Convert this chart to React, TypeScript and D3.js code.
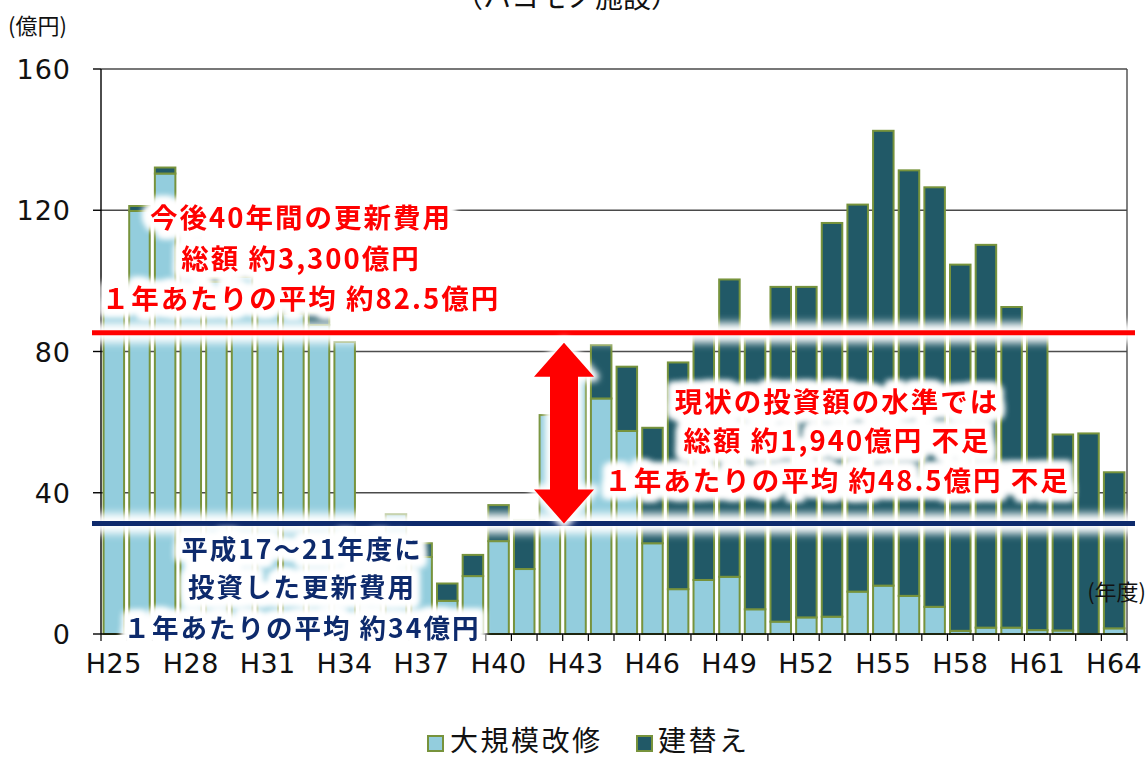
import React from "react";
import * as d3 from "d3";

const categories = [
  "H25","H26","H27","H28","H29","H30","H31","H32","H33","H34",
  "H35","H36","H37","H38","H39","H40","H41","H42","H43","H44",
  "H45","H46","H47","H48","H49","H50","H51","H52","H53","H54",
  "H55","H56","H57","H58","H59","H60","H61","H62","H63","H64",
];
// 大規模改修 (bottom, light)
const renovation = [
  92.2, 119.8, 130.4, 113.6, 99.8, 101.2, 93, 90.8, 87.5, 82.7,
  27, 33.9, 21.8, 9.4, 16.4, 26.3, 18.4, 62, 74, 66.7,
  57.5, 25.7, 12.7, 15.3, 16.2, 7, 3.5, 4.7, 4.9, 12,
  13.7, 10.8, 7.7, 0.9, 1.8, 1.8, 1.1, 1, 0, 1.6,
];
// 建替え (top, dark)
const rebuild = [
  0, 1.4, 1.7, 0, 1.1, 1.1, 2, 2.8, 3.6, 0,
  0.7, 0, 3.9, 4.9, 6, 10.2, 13.9, 0, 0, 15.1,
  18.2, 32.7, 64.2, 69.3, 84.2, 76.7, 94.8, 93.6, 111.5, 109.6,
  128.8, 120.5, 118.8, 103.7, 108.4, 90.8, 83.5, 55.5, 56.8, 44.2,
];
const yTicks = [0, 40, 80, 120, 160];
const xLabelEvery = ["H25","H28","H31","H34","H37","H40","H43","H46","H49","H52","H55","H58","H61","H64"];
const seriesNames = ["大規模改修", "建替え"];
const requiredLevel = 85.3;
const currentLevel = 31.3;
const arrowTopValue = 82.5;

const redBlock1 = ["今後40年間の更新費用", "総額 約3,300億円", "１年あたりの平均 約82.5億円"];
const blueBlock = ["平成17～21年度に", "投資した更新費用", "１年あたりの平均 約34億円"];
const redBlock2 = ["現状の投資額の水準では", "総額 約1,940億円 不足", "１年あたりの平均 約48.5億円 不足"];

const LIGHT = "#93CDDD";
const DARK = "#215967";
const EDGE = "#77933C";
const RED = "#FF0000";
const NAVY = "#0E2A6C";
const JP = "'Noto Sans CJK JP', 'Noto Sans', sans-serif";
const NUM = "'DejaVu Sans', sans-serif";

function GlowText({ lines, cx, ys, color, size = 27.5 }: { lines: string[]; cx: number; ys: number[]; color: string; size?: number }) {
  return (
    <g fontFamily={JP} fontWeight={700} fontSize={size} textAnchor="middle" letterSpacing={2} filter="url(#textglow)">
      {lines.map((t, i) => (
        <text key={i} x={cx} y={ys[i]} fill={color} stroke="#fff" strokeWidth={4} strokeLinejoin="round" style={{ paintOrder: "stroke" }}>{t}</text>
      ))}
    </g>
  );
}

export default function App() {
  const W = 1146, H = 758;
  const x = d3.scaleBand<string>().domain(categories).range([101, 1127]).paddingInner(0.2).paddingOuter(0.1);
  const y = d3.scaleLinear().domain([0, 160]).range([634, 69]);
  const step = x.step();
  const x0 = 101;
  const boundaries = d3.range(categories.length + 1).map((i) => x0 + i * step);

  const arrowX = 564;
  const aTop = y(arrowTopValue);
  const aBot = y(currentLevel);
  const headH = 34, headW = 30, shaftW = 14;
  const arrowPts = [
    [arrowX, aTop], [arrowX + headW, aTop + headH], [arrowX + shaftW, aTop + headH],
    [arrowX + shaftW, aBot - headH], [arrowX + headW, aBot - headH], [arrowX, aBot],
    [arrowX - headW, aBot - headH], [arrowX - shaftW, aBot - headH], [arrowX - shaftW, aTop + headH],
    [arrowX - headW, aTop + headH],
  ].map((p) => p.join(",")).join(" ");

  return (
    <svg width={W} height={H} style={{ position: "absolute", left: 0, top: 0, background: "#fff" }}>
      <defs>
        <filter id="blur3" x="-20%" y="-50%" width="140%" height="200%">
          <feGaussianBlur stdDeviation="3" />
        </filter>
        <filter id="blur5" x="-20%" y="-200%" width="140%" height="500%">
          <feGaussianBlur stdDeviation="4" />
        </filter>
        <filter id="textglow" x="-10%" y="-20%" width="120%" height="140%">
          <feMorphology in="SourceAlpha" operator="dilate" radius="5" result="d" />
          <feGaussianBlur in="d" stdDeviation="3" result="b" />
          <feFlood floodColor="#ffffff" result="w" />
          <feComposite in="w" in2="b" operator="in" result="g" />
          <feMerge>
            <feMergeNode in="g" />
            <feMergeNode in="g" />
            <feMergeNode in="SourceGraphic" />
          </feMerge>
        </filter>
      </defs>

      {/* title (cut off at top, as in the reference) */}
      <text x={567} y={8} textAnchor="middle" fontFamily={JP} fontSize={28} fill="#111">（ハコモノ施設）</text>
      <text x={8} y={34} fontFamily={JP} fontSize={22} fill="#111">(億円)</text>

      {/* gridlines */}
      {yTicks.filter((t) => t > 0).map((t) => (
        <line key={t} x1={101} x2={1127} y1={y(t)} y2={y(t)} stroke="#4a4a4a" strokeWidth={1.4} />
      ))}
      <line x1={1127} x2={1127} y1={y(160)} y2={y(0)} stroke="#4a4a4a" strokeWidth={1.4} />

      {/* bars */}
      {categories.map((c, i) => {
        const bx = x(c)!;
        const bw = x.bandwidth();
        const l = renovation[i];
        const d = rebuild[i];
        return (
          <g key={c} stroke={EDGE} strokeWidth={2}>
            {l > 0 && <rect x={bx} y={y(l)} width={bw} height={y(0) - y(l)} fill={LIGHT} />}
            {d > 0 && <rect x={bx} y={y(l + d)} width={bw} height={y(l) - y(l + d)} fill={DARK} />}
          </g>
        );
      })}

      {/* axes */}
      <line x1={101} x2={101} y1={y(160)} y2={y(0)} stroke="#000" strokeWidth={1.4} />
      <line x1={101} x2={1127} y1={y(0)} y2={y(0)} stroke="#000" strokeWidth={1.4} />
      {yTicks.map((t) => (
        <g key={t}>
          <line x1={93} x2={101} y1={y(t)} y2={y(t)} stroke="#000" strokeWidth={1.4} />
          <text x={71} y={y(t) + 10} textAnchor="end" fontFamily={NUM} fontSize={27} fill="#111" letterSpacing={1}>{t}</text>
        </g>
      ))}
      {boundaries.map((b, i) => (
        <line key={i} x1={b} x2={b} y1={y(0)} y2={y(0) + 7} stroke="#000" strokeWidth={1.2} />
      ))}
      {xLabelEvery.map((c) => (
        <text key={c} x={x(c)! + x.bandwidth() / 2} y={673} textAnchor="middle" fontFamily={NUM} fontSize={27} fill="#111" letterSpacing={0.5}>{c}</text>
      ))}
      <text x={1146} y={600} textAnchor="end" fontFamily={JP} fontSize={22} fill="#111">(年度)</text>

      {/* reference lines with glow */}
      <g filter="url(#blur5)">
        <line x1={92} x2={1135} y1={y(requiredLevel)} y2={y(requiredLevel)} stroke="#fff" strokeWidth={20} />
        <line x1={92} x2={1135} y1={y(currentLevel)} y2={y(currentLevel)} stroke="#fff" strokeWidth={20} />
      </g>
      <line x1={92} x2={1135} y1={y(requiredLevel)} y2={y(requiredLevel)} stroke={RED} strokeWidth={5} />
      <line x1={92} x2={1135} y1={y(currentLevel)} y2={y(currentLevel)} stroke={NAVY} strokeWidth={5} />

      {/* arrow */}
      <polygon points={arrowPts} fill="#fff" stroke="#fff" strokeWidth={10} strokeLinejoin="round" filter="url(#blur3)" />
      <polygon points={arrowPts} fill={RED} />

      {/* annotations */}
      <GlowText lines={redBlock1} cx={301} ys={[228, 269, 309]} color={RED} />
      <GlowText lines={blueBlock} cx={302} ys={[559, 597, 638]} color={NAVY} size={26.5} />
      <GlowText lines={redBlock2} cx={837} ys={[412, 451, 491]} color={RED} />

      {/* legend */}
      <rect x={428} y={736} width={15} height={15} fill={LIGHT} stroke={EDGE} strokeWidth={2} />
      <text x={450} y={751} fontFamily={JP} fontSize={28} fill="#111" letterSpacing={2.5}>{seriesNames[0]}</text>
      <rect x={637} y={736} width={15} height={15} fill={DARK} stroke={EDGE} strokeWidth={2} />
      <text x={658} y={751} fontFamily={JP} fontSize={28} fill="#111" letterSpacing={2.5}>{seriesNames[1]}</text>
    </svg>
  );
}
